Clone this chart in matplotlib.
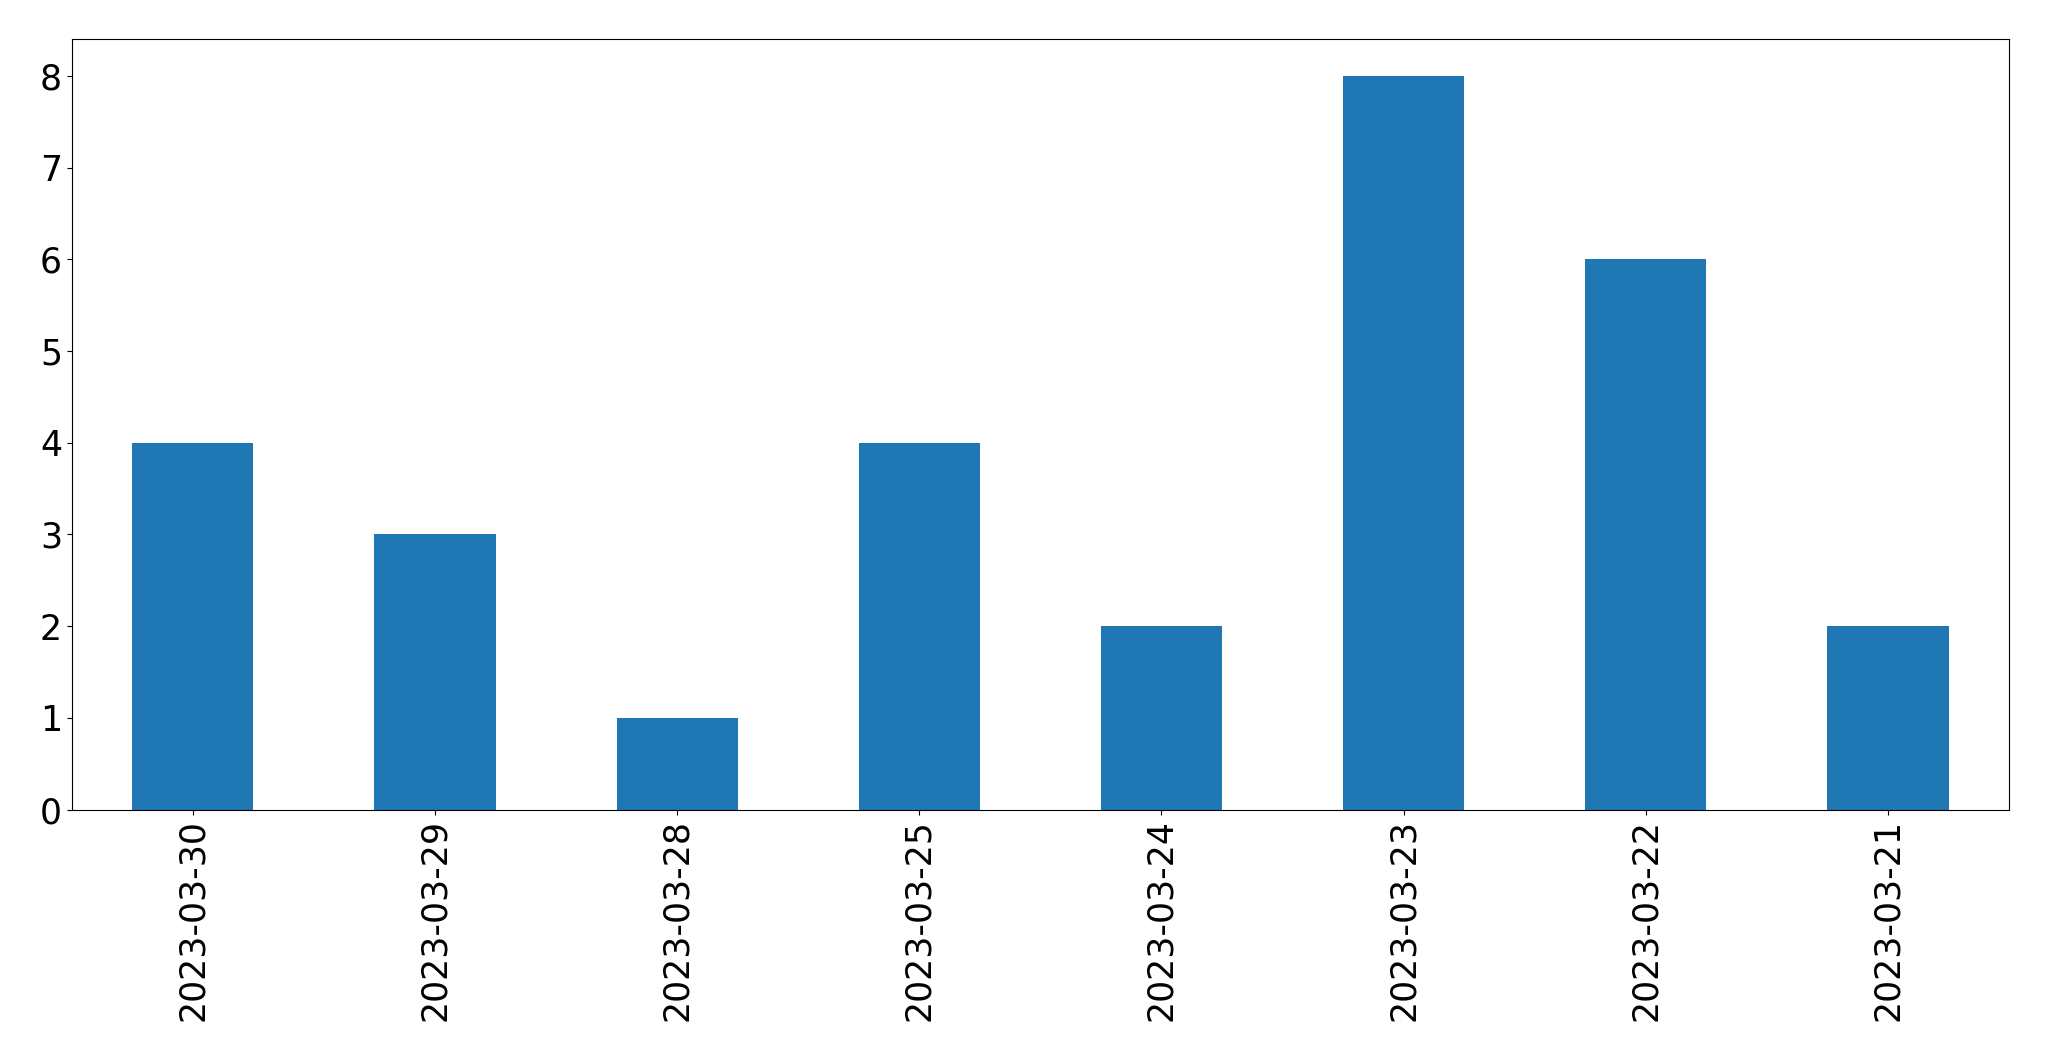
import matplotlib
matplotlib.use("Agg")
import matplotlib.pyplot as plt
import pandas as pd

# Daily counts, in the order they appear in the chart
dates = ["2023-03-30", "2023-03-29", "2023-03-28", "2023-03-25",
         "2023-03-24", "2023-03-23", "2023-03-22", "2023-03-21"]
counts = [4, 3, 1, 4, 2, 8, 6, 2]


def main():
    series = pd.Series(counts, index=dates)

    fig = plt.figure(figsize=(20.49, 10.61), dpi=100)
    ax = fig.add_axes([0.035, 0.237, 0.9455, 0.726])
    series.plot(kind="bar", ax=ax, color="#1f77b4", width=0.5)

    ax.tick_params(axis="both", labelsize=25)
    ax.set_xlabel("")

    fig.savefig("out.png", dpi=100)


if __name__ == "__main__":
    main()
